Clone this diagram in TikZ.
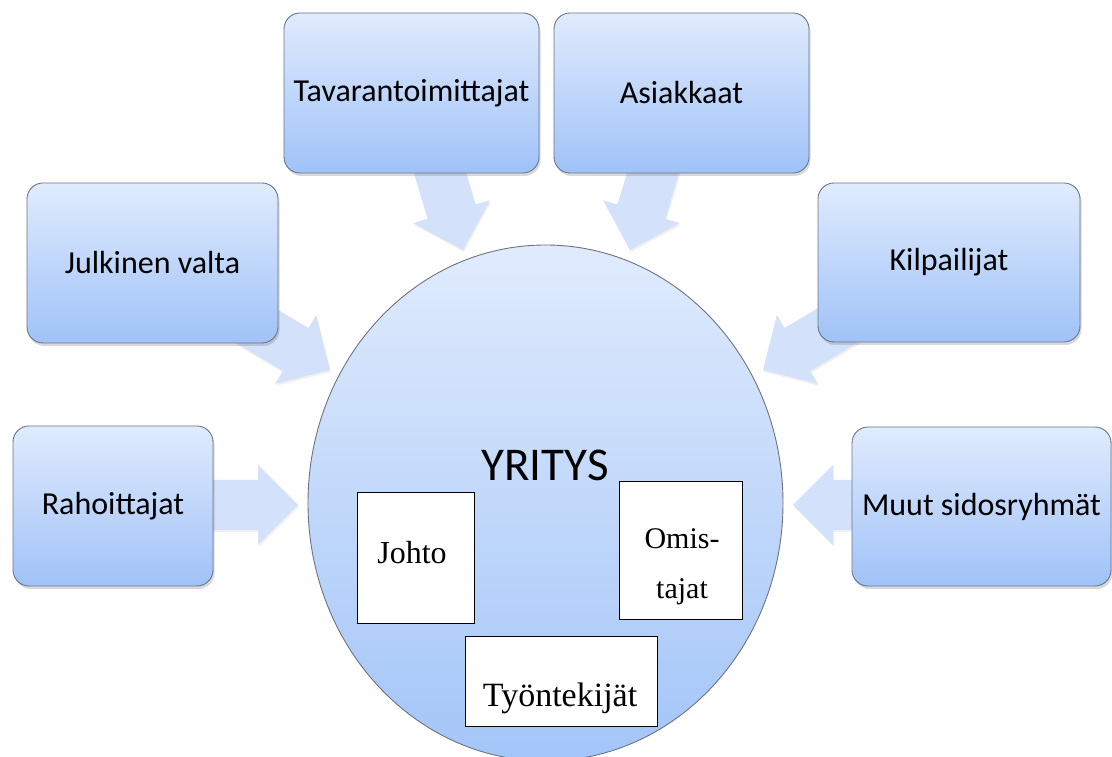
\documentclass[tikz,border=0pt]{standalone}
\usepackage{fontspec}
\setmainfont{Liberation Serif}
\newfontfamily\carlito{Carlito}
\usetikzlibrary{calc,shadows,shapes.geometric,backgrounds}
\definecolor{boxtop}{RGB}{224,235,253}
\definecolor{boxbot}{RGB}{160,194,248}
\definecolor{boxline}{RGB}{105,118,138}
\definecolor{arrowc}{RGB}{212,225,250}
\definecolor{elltop}{RGB}{224,235,253}
\definecolor{ellbot}{RGB}{163,197,248}
\newcommand\blockarrow[2]{%
  \coordinate (hb) at ($(#2)!40pt!(#1)$);
  \fill[blockarrowfill] ($(#1)!25pt!90:(#2)$) -- ($(hb)!25pt!90:(#2)$) -- ($(hb)!40pt!90:(#2)$)
     -- (#2) -- ($(hb)!40pt!-90:(#2)$) -- ($(hb)!25pt!-90:(#2)$) -- ($(#1)!25pt!-90:(#2)$) -- cycle;}
\begin{document}
\begin{tikzpicture}[x=1pt,y=1pt,
  outerbox/.style={draw=boxline, line width=0.9pt, rounded corners=16pt, top color=boxtop,
    bottom color=boxbot, inner sep=0pt, align=center, font=\carlito\fontsize{32}{38}\selectfont,
    drop shadow={shadow xshift=1.5pt, shadow yshift=-3pt, opacity=0.3}},
  innerbox/.style={draw=black, line width=0.8pt, fill=white, inner sep=0pt},
  innertext/.style={align=center, inner sep=0pt},
  blockarrowfill/.style={fill=arrowc, drop shadow={shadow xshift=1pt, shadow yshift=-2pt, opacity=0.12}}
]
\useasboundingbox (0,0) rectangle (1112,757);

% central ellipse
\node[ellipse, draw={rgb,255:red,110;green,115;blue,125}, line width=0.9pt, top color=elltop, bottom color=ellbot,
      minimum width=475pt, minimum height=516pt, inner sep=0pt] (firm) at (545.5,254) {};
\node[font=\carlito\fontsize{47}{50}\selectfont, inner sep=0pt] (yritys) at (545,292) {YRITYS};

% inner boxes
\node[innerbox, minimum width=117pt, minimum height=131pt] (johto) at (415.5,199.5) {};
\node[innertext, font=\fontsize{32}{38}\selectfont] (johtot) at (412,204) {Johto};
\node[innerbox, minimum width=123pt, minimum height=138pt] (omis) at (680.5,207) {};
\node[innertext, font=\fontsize{30}{50}\selectfont] (omist) at (682,190) {Omis-\\tajat};
\node[innerbox, minimum width=192pt, minimum height=90pt] (tyon) at (561,76) {};
\node[innertext, font=\fontsize{34}{40}\selectfont] (tyont) at (560,59) {Työntekijät};

% outer boxes
\node[outerbox, minimum width=255pt, minimum height=160pt] (tav) at (411.5,664) {Tavarantoimittajat};
\node[outerbox, minimum width=255pt, minimum height=160pt] (asi) at (681.5,664) {Asiakkaat};
\node[outerbox, minimum width=251pt, minimum height=160pt] (jul) at (152.5,494) {Julkinen valta};
\node[outerbox, minimum width=262pt, minimum height=159pt] (kil) at (949,494.5) {Kilpailijat};
\node[outerbox, minimum width=200pt, minimum height=160pt] (rah) at (113,251) {Rahoittajat};
\node[outerbox, minimum width=259pt, minimum height=159pt] (muu) at (981.5,250.5) {Muut sidosryhmät};

% arrow anchors
\coordinate (tavS) at (420,651);  \coordinate (tavT) at (463,507);
\coordinate (asiS) at (673,651);  \coordinate (asiT) at (630,507);
\coordinate (julS) at (201,464);  \coordinate (julT) at (330,387);
\coordinate (kilS) at (892,464);  \coordinate (kilT) at (763,387);
\coordinate (rahS) at (113,252);  \coordinate (rahT) at (298,252);
\coordinate (muuS) at (980,252);  \coordinate (muuT) at (793,252);

\begin{pgfonlayer}{background}
\blockarrow{tavS}{tavT}
\blockarrow{asiS}{asiT}
\blockarrow{julS}{julT}
\blockarrow{kilS}{kilT}
\blockarrow{rahS}{rahT}
\blockarrow{muuS}{muuT}
\end{pgfonlayer}
\end{tikzpicture}
\end{document}
